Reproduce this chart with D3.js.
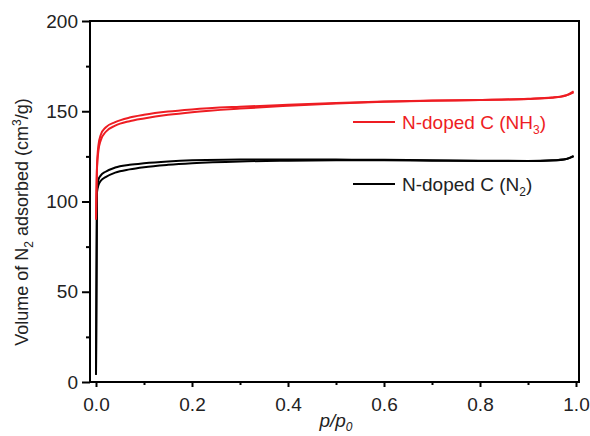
<!DOCTYPE html>
<html>
<head>
<meta charset="utf-8">
<script src="https://cdn.jsdelivr.net/npm/d3@7"></script>
<style>
  body { margin: 0; background: #fff; }
  text { font-family: "Liberation Sans", Arial, sans-serif; }
</style>
</head>
<body>
<script>
'use strict';

// relative pressure grid shared by all branches
const pGrid = [0, 0.002, 0.005, 0.01, 0.02, 0.04, 0.07, 0.1, 0.15, 0.2, 0.3, 0.4, 0.5, 0.6, 0.7, 0.8, 0.9, 0.95, 0.98, 0.995];

// N-doped C (NH3)
const nh3Ads = [90, 118, 128, 134, 138.5, 142, 144.5, 146, 148, 149.5, 151.5, 153, 154.3, 155.2, 155.8, 156.2, 156.8, 157.5, 158.8, 160.5];
const nh3Des = [90, 119, 131, 137, 141, 144, 146.5, 148, 149.8, 151, 152.5, 153.6, 154.6, 155.4, 155.9, 156.3, 156.9, 157.6, 158.9, 161];

// N-doped C (N2)
const n2Ads = [4, 105, 109, 111.5, 113.5, 116, 117.8, 119, 120.3, 121.2, 122.2, 122.6, 122.8, 122.8, 122.6, 122.4, 122.4, 122.7, 123.5, 125];
const n2Des = [4, 107, 112, 114.5, 116.5, 118.8, 120.3, 121.2, 122.2, 122.8, 123.2, 123.3, 123.2, 123.1, 122.9, 122.6, 122.5, 122.8, 123.6, 125.3];

const xTicks = [0, 0.2, 0.4, 0.6, 0.8, 1.0];
const xMinor = [0.1, 0.3, 0.5, 0.7, 0.9];
const yTicks = [0, 50, 100, 150, 200];
const yMinor = [25, 75, 125, 175];

const red = '#ee1d23';

let svg = d3.select('body').append('svg')
  .attr('width', 590)
  .attr('height', 436);

let x = d3.scaleLinear().domain([-0.0125, 1.00625]).range([90, 579]);
let y = d3.scaleLinear().domain([0, 200]).range([382, 21]);

// curves
let line = d3.line()
  .x(d => x(d[0]))
  .y(d => y(d[1]))
  .curve(d3.curveMonotoneX);

let series = [
  { v: n2Ads, color: '#000' },
  { v: n2Des, color: '#000' },
  { v: nh3Ads, color: red },
  { v: nh3Des, color: red }
];
series.forEach(s => {
  svg.append('path')
    .attr('d', line(pGrid.map((p, i) => [p, s.v[i]])))
    .attr('fill', 'none')
    .attr('stroke', s.color)
    .attr('stroke-width', 2);
});

// axes
let fmt = d3.format('.1f');
let xAxis = svg.append('g')
  .attr('transform', 'translate(0,382)')
  .call(d3.axisBottom(x).tickValues(xTicks).tickFormat(fmt).tickSize(5).tickPadding(11));
let xAxisMinor = svg.append('g')
  .attr('transform', 'translate(0,382)')
  .call(d3.axisBottom(x).tickValues(xMinor).tickFormat('').tickSize(3));
let yAxis = svg.append('g')
  .attr('transform', 'translate(90,0)')
  .call(d3.axisLeft(y).tickValues(yTicks).tickSize(8).tickPadding(4));
let yAxisMinor = svg.append('g')
  .attr('transform', 'translate(90,0)')
  .call(d3.axisLeft(y).tickValues(yMinor).tickFormat('').tickSize(4));

[xAxis, xAxisMinor, yAxis, yAxisMinor].forEach(g => {
  g.select('.domain').remove();
  g.selectAll('line').attr('stroke', '#000').attr('stroke-width', 2);
  g.selectAll('text').attr('font-size', 19).attr('fill', '#222')
    .style('font-family', '"Liberation Sans", Arial, sans-serif');
});

// frame
svg.append('rect')
  .attr('x', 90).attr('y', 21)
  .attr('width', 489).attr('height', 361)
  .attr('fill', 'none')
  .attr('stroke', '#000')
  .attr('stroke-width', 2);

// axis labels
let yl = svg.append('text')
  .attr('transform', 'translate(28,222)rotate(-90)')
  .attr('text-anchor', 'middle')
  .attr('font-size', 18)
  .attr('fill', '#222');
yl.append('tspan').text('Volume of N');
yl.append('tspan').attr('font-size', 12).attr('dy', 5).text('2');
yl.append('tspan').attr('dy', -5).text(' adsorbed (cm');
yl.append('tspan').attr('font-size', 12).attr('dy', -7).text('3');
yl.append('tspan').attr('dy', 7).text('/g)');

let xl = svg.append('text')
  .attr('x', 336).attr('y', 427)
  .attr('text-anchor', 'middle')
  .attr('font-size', 19)
  .attr('font-style', 'italic')
  .attr('fill', '#222');
xl.append('tspan').text('p/p');
xl.append('tspan').attr('font-size', 12).attr('dy', 4).text('0');

// legend
let legend = [
  { name: 'N-doped C (NH', sub: '3', color: red, yPos: 122 },
  { name: 'N-doped C (N', sub: '2', color: '#222', yPos: 184 }
];
legend.forEach(l => {
  svg.append('line')
    .attr('x1', 353).attr('x2', 395)
    .attr('y1', l.yPos).attr('y2', l.yPos)
    .attr('stroke', l.color === red ? red : '#000')
    .attr('stroke-width', 2);
  let t = svg.append('text')
    .attr('x', 402).attr('y', l.yPos + 7)
    .attr('font-size', 19)
    .attr('fill', l.color);
  t.append('tspan').text(l.name);
  t.append('tspan').attr('font-size', 12).attr('dy', 5).text(l.sub);
  t.append('tspan').attr('dy', -5).text(')');
});
</script>
</body>
</html>
